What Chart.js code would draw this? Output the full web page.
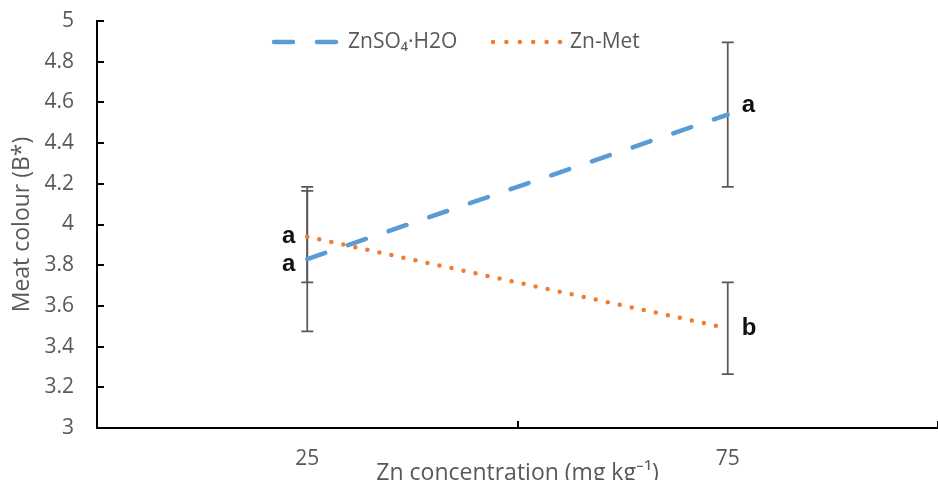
<!DOCTYPE html>
<html>
<head>
<meta charset="utf-8">
<script src="https://cdn.jsdelivr.net/npm/chart.js@4.4.1/dist/chart.umd.min.js"></script>
<style>
  body { margin: 0; background: #fff; }
  #wrap { width: 938px; height: 480px; }
</style>
</head>
<body>
<div id="wrap"><canvas id="meatChart" width="938" height="480"></canvas></div>
<script>
// data
const concentrations = ['25', '75'];
const znso4Means = [3.83, 4.54];
const znso4Errors = [0.355, 0.355];
const znso4Letters = ['a', 'a'];
const znMetMeans = [3.94, 3.49];
const znMetErrors = [0.225, 0.225];
const znMetLetters = ['a', 'b'];
const yMin = 3, yMax = 5, yStep = 0.2;

const seriesNames = ['ZnSO\u2084\u00b7H2O', 'Zn-Met'];
const blue = '#5B9BD5';
const orange = '#ED7D31';
const grey = '#595959';

// letter placement next to the error bars (pixel nudges, style only)
const letterNudge = [[5, -9], [0, 0]];

Chart.defaults.font.family = "'Open Sans', sans-serif";
Chart.defaults.color = grey;

const errorBars = {
    id: 'errorBars',
    beforeDatasetsDraw(chart) {
        const { ctx, scales: { x, y } } = chart;
        ctx.save();
        ctx.strokeStyle = grey;
        ctx.lineWidth = 1.75;
        chart.data.datasets.forEach(ds => {
            ds.data.forEach((v, i) => {
                const px = x.getPixelForValue(i);
                const top = y.getPixelForValue(v + ds.errors[i]);
                const bot = y.getPixelForValue(v - ds.errors[i]);
                ctx.beginPath();
                ctx.moveTo(px, top); ctx.lineTo(px, bot);
                ctx.moveTo(px - 6, top); ctx.lineTo(px + 6, top);
                ctx.moveTo(px - 6, bot); ctx.lineTo(px + 6, bot);
                ctx.stroke();
            });
        });
        ctx.restore();
    },
    afterDatasetsDraw(chart) {
        const { ctx, scales: { x, y } } = chart;
        ctx.save();
        ctx.font = "bold 24px 'Liberation Sans', Arial, sans-serif";
        ctx.fillStyle = '#111';
        ctx.textBaseline = 'middle';
        chart.data.datasets.forEach((ds, d) => {
            ds.data.forEach((v, i) => {
                const px = x.getPixelForValue(i);
                const py = y.getPixelForValue(v) + letterNudge[d][i];
                if (i === 0) {
                    ctx.textAlign = 'right';
                    ctx.fillText(ds.letters[i], px - 12, py);
                } else {
                    ctx.textAlign = 'left';
                    ctx.fillText(ds.letters[i], px + 14, py);
                }
            });
        });
        ctx.restore();
    }
};

const topLegend = {
    id: 'topLegend',
    afterDraw(chart) {
        const ctx = chart.ctx;
        const ly = 42;
        ctx.save();
        ctx.lineCap = 'round';
        ctx.lineWidth = 4.5;
        // dashed sample
        ctx.strokeStyle = blue;
        ctx.setLineDash([19, 24]);
        ctx.beginPath(); ctx.moveTo(274, ly); ctx.lineTo(336, ly); ctx.stroke();
        // dotted sample
        ctx.strokeStyle = orange;
        ctx.setLineDash([0, 13.4]);
        ctx.beginPath(); ctx.moveTo(493, ly); ctx.lineTo(560, ly); ctx.stroke();
        ctx.setLineDash([]);
        ctx.font = "21px 'Open Sans', sans-serif";
        ctx.fillStyle = grey;
        ctx.textAlign = 'left';
        ctx.textBaseline = 'middle';
        ctx.fillText(chart.data.datasets[0].label, 348, ly);
        ctx.fillText(chart.data.datasets[1].label, 570, ly);
        ctx.restore();
    }
};

const ctx = document.getElementById('meatChart').getContext('2d');
new Chart(ctx, {
    type: 'line',
    data: {
        labels: concentrations,
        datasets: [
            {
                label: seriesNames[0],
                data: znso4Means,
                errors: znso4Errors,
                letters: znso4Letters,
                borderColor: blue,
                borderWidth: 4.5,
                borderDash: [19, 24],
                borderCapStyle: 'round',
                pointRadius: 0,
                tension: 0,
                fill: false
            },
            {
                label: seriesNames[1],
                data: znMetMeans,
                errors: znMetErrors,
                letters: znMetLetters,
                borderColor: orange,
                borderWidth: 4.5,
                borderDash: [0, 12.3],
                borderCapStyle: 'round',
                pointRadius: 0,
                tension: 0,
                fill: false
            }
        ]
    },
    options: {
        responsive: false,
        animation: false,
        events: [],
        layout: { padding: { top: 21, right: -4, bottom: 0, left: 0 } },
        plugins: {
            legend: { display: false },
            tooltip: { enabled: false }
        },
        scales: {
            x: {
                offset: true,
                grid: {
                    display: true,
                    offset: true,
                    drawOnChartArea: false,
                    drawTicks: true,
                    tickLength: -7,
                    color: '#000',
                    lineWidth: 2
                },
                border: { color: '#000', width: 2 },
                ticks: { padding: 25, maxRotation: 0, font: { size: 21 }, color: grey },
                title: {
                    display: true,
                    text: 'Zn concentration (mg kg\u207b\u00b9)',
                    font: { size: 23 },
                    color: grey,
                    padding: { top: 0, bottom: -7 }
                },
                afterFit(scale) { scale.height = 52; }
            },
            y: {
                min: yMin,
                max: yMax,
                grid: {
                    display: true,
                    drawOnChartArea: false,
                    drawTicks: true,
                    tickLength: -7,
                    color: '#000',
                    lineWidth: 2
                },
                border: { color: '#000', width: 2 },
                ticks: {
                    stepSize: yStep,
                    padding: 30,
                    font: { size: 21 },
                    color: grey,
                    callback: v => String(+v.toFixed(1))
                },
                title: {
                    display: true,
                    text: 'Meat colour (B*)',
                    font: { size: 23 },
                    color: grey,
                    padding: { top: 9, bottom: 0 }
                },
                afterFit(scale) {
                    scale.width = 97;
                    scale.paddingTop = 0;
                    scale.paddingBottom = 0;
                }
            }
        }
    },
    plugins: [errorBars, topLegend]
});
</script>
</body>
</html>
